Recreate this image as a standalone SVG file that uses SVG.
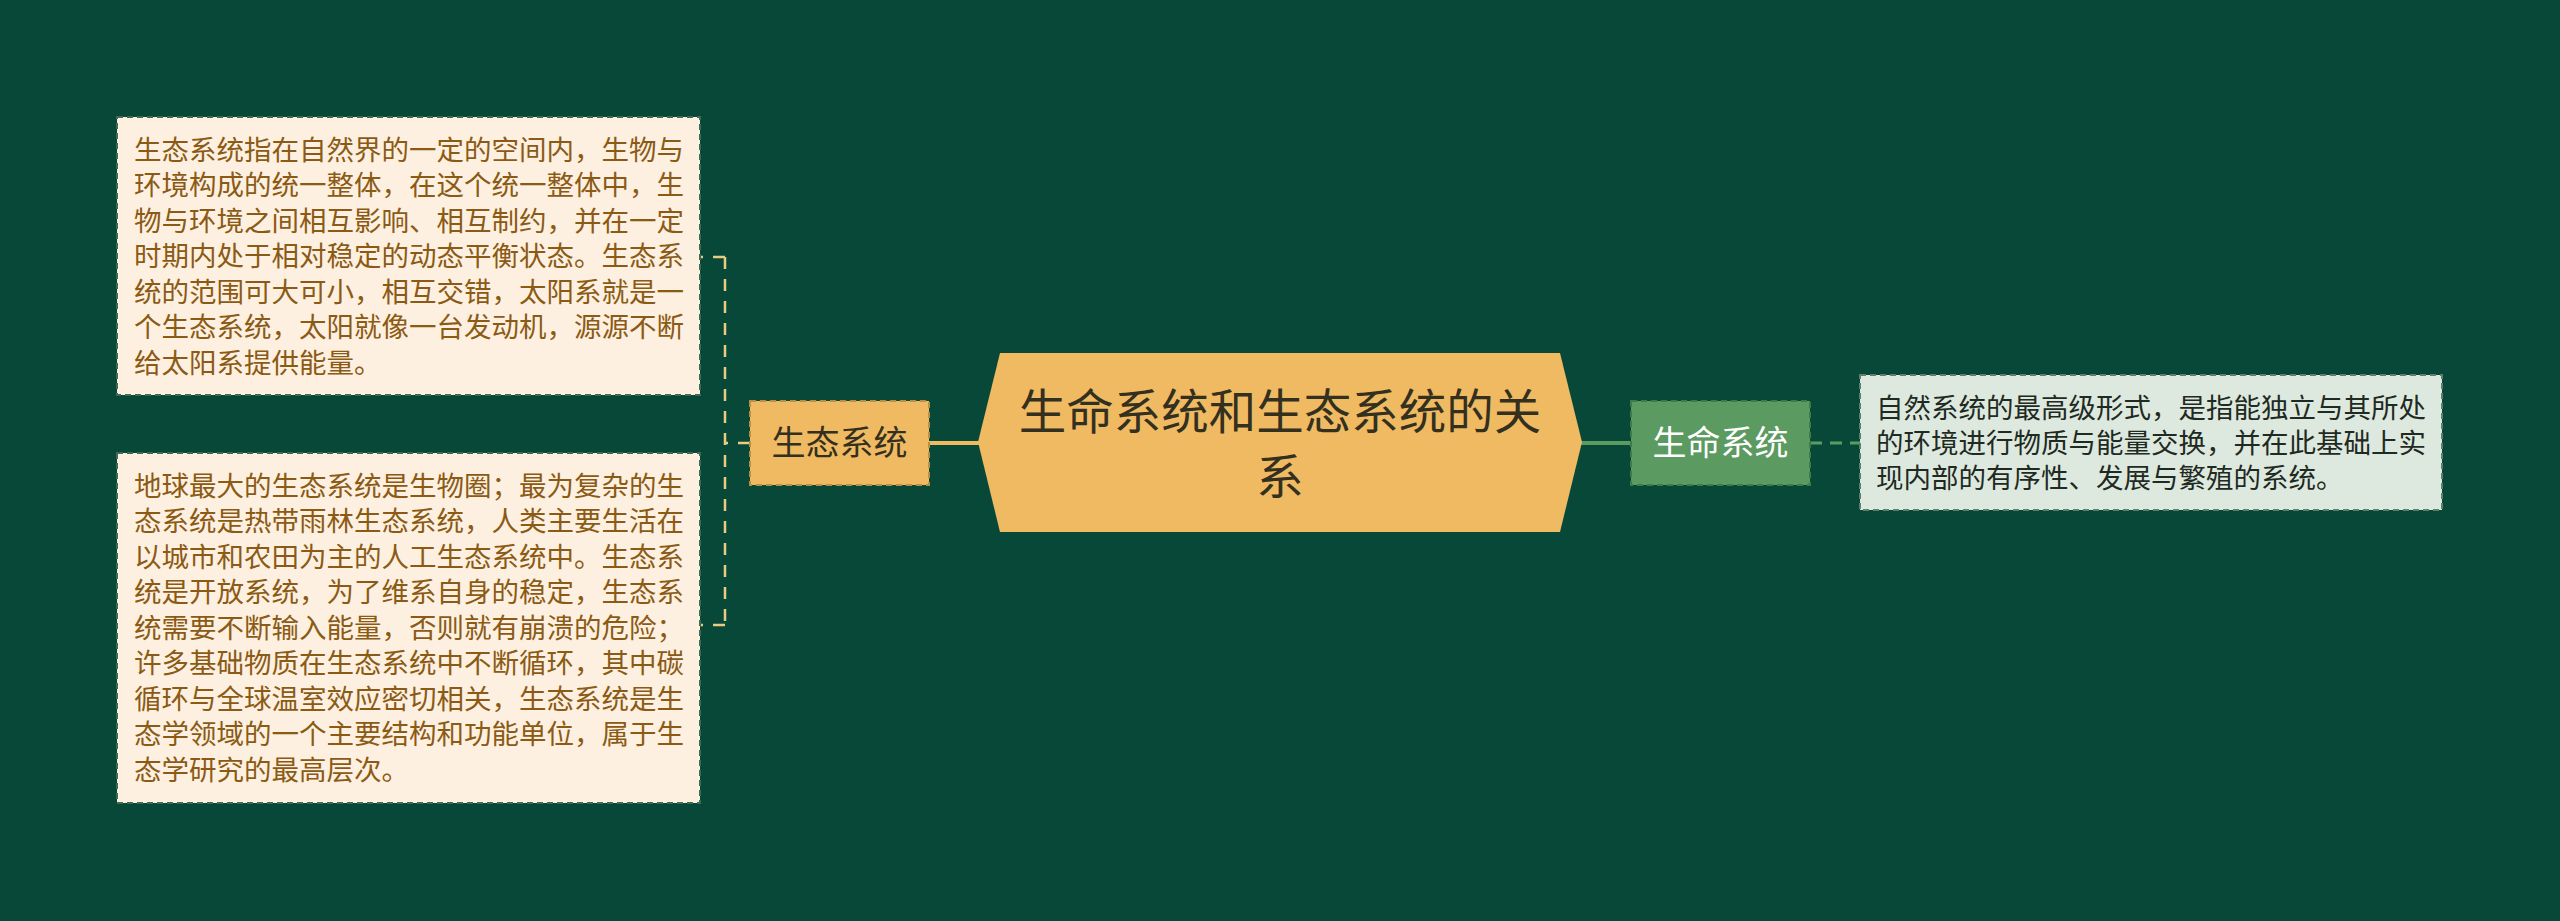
<svg xmlns="http://www.w3.org/2000/svg" width="2560" height="921" viewBox="0 0 2560 921">
<style>
text{font-family:"Noto Sans CJK SC","Noto Sans",sans-serif;}
.desc{font-size:27.5px;fill:#8B5A14;}
.rdesc{font-size:27.5px;fill:#1f2a22;}
.cbox{fill:#FDF0E0;stroke:#3f6b55;stroke-width:2;stroke-dasharray:6 4;}
.gbox{fill:#DDE9DF;stroke:#5f7f6c;stroke-width:2;stroke-dasharray:6 4;}
.ybox{fill:#F0BA62;stroke:#b98f45;stroke-width:2;stroke-dasharray:6 4;}
.grbox{fill:#5B9A60;stroke:#3f7a48;stroke-width:2;stroke-dasharray:6 4;}
.ylink{fill:none;stroke:#EBCB80;stroke-width:2.5;stroke-dasharray:12 10;}
.glink{fill:none;stroke:#5B9A60;stroke-width:3;stroke-dasharray:12 8;}
</style>
<rect x="0" y="0" width="2560" height="921" fill="#084838"/>
<g id="connectors">
<path class="ylink" d="M750,443 L725,443 M725,257 L725,625 M725,257 L700,257 M725,625 L700,625"/>
<line x1="929" y1="443" x2="980" y2="443" stroke="#F0BA62" stroke-width="4"/>
<line x1="1580" y1="443" x2="1631" y2="443" stroke="#5B9A60" stroke-width="4"/>
<line class="glink" x1="1810" y1="443" x2="1860" y2="443"/>
</g>
<g id="root">
<polygon points="978,442 1000,353 1560,353 1582,442 1560,532 1000,532" fill="#F0BA62"/>
<text x="1280" y="429" font-size="47.5" fill="#33301f" text-anchor="middle">生命系统和生态系统的关</text>
<text x="1280" y="494" font-size="47.5" fill="#33301f" text-anchor="middle">系</text>
</g>
<g id="eco">
<rect class="ybox" x="750" y="401" width="179" height="84"/>
<text x="839.5" y="455" font-size="34" fill="#33301f" text-anchor="middle">生态系统</text>
</g>
<g id="life">
<rect class="grbox" x="1631" y="401" width="179" height="84"/>
<text x="1720.5" y="455" font-size="34" fill="#ffffff" text-anchor="middle">生命系统</text>
</g>
<g id="eco-desc1">
<rect class="cbox" x="117" y="117" width="583" height="278"/>
<text class="desc" x="134" y="159.5">生态系统指在自然界的一定的空间内，生物与</text>
<text class="desc" x="134" y="195">环境构成的统一整体，在这个统一整体中，生</text>
<text class="desc" x="134" y="230.5">物与环境之间相互影响、相互制约，并在一定</text>
<text class="desc" x="134" y="266">时期内处于相对稳定的动态平衡状态。生态系</text>
<text class="desc" x="134" y="301.5">统的范围可大可小，相互交错，太阳系就是一</text>
<text class="desc" x="134" y="337">个生态系统，太阳就像一台发动机，源源不断</text>
<text class="desc" x="134" y="372.5">给太阳系提供能量。</text>
</g>
<g id="eco-desc2">
<rect class="cbox" x="117" y="453" width="583" height="350"/>
<text class="desc" x="134" y="495.5">地球最大的生态系统是生物圈；最为复杂的生</text>
<text class="desc" x="134" y="531">态系统是热带雨林生态系统，人类主要生活在</text>
<text class="desc" x="134" y="566.5">以城市和农田为主的人工生态系统中。生态系</text>
<text class="desc" x="134" y="602">统是开放系统，为了维系自身的稳定，生态系</text>
<text class="desc" x="134" y="637.5">统需要不断输入能量，否则就有崩溃的危险；</text>
<text class="desc" x="134" y="673">许多基础物质在生态系统中不断循环，其中碳</text>
<text class="desc" x="134" y="708.5">循环与全球温室效应密切相关，生态系统是生</text>
<text class="desc" x="134" y="744">态学领域的一个主要结构和功能单位，属于生</text>
<text class="desc" x="134" y="779.5">态学研究的最高层次。</text>
</g>
<g id="life-desc">
<rect class="gbox" x="1860" y="375" width="582" height="135"/>
<text class="rdesc" x="1876" y="418">自然系统的最高级形式，是指能独立与其所处</text>
<text class="rdesc" x="1876" y="453">的环境进行物质与能量交换，并在此基础上实</text>
<text class="rdesc" x="1876" y="488">现内部的有序性、发展与繁殖的系统。</text>
</g>
</svg>
